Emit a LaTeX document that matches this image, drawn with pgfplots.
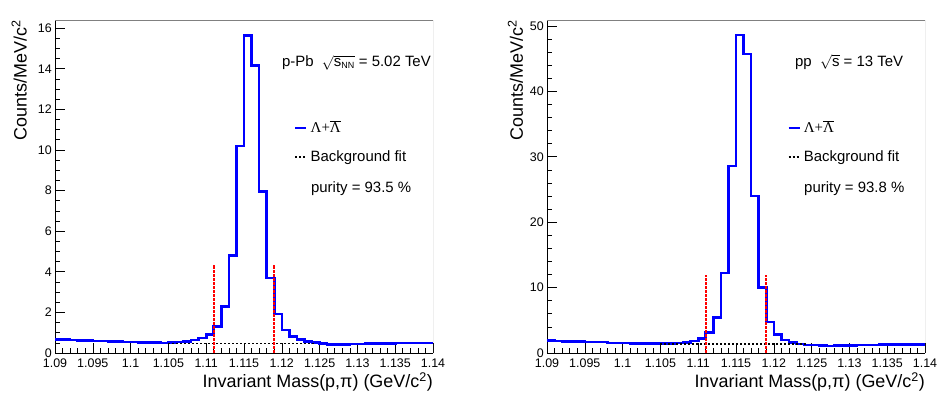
\documentclass[border=0pt]{standalone}
\usepackage{fontspec}
\setmainfont{Liberation Sans}
\newfontfamily\seriffont{Liberation Serif}
\usepackage{pgfplots}
\pgfplotsset{compat=1.18}

\pgfplotsset{
  rootaxis/.style={
    scale only axis, width=378bp, height=333bp,
    xmin=1.09, xmax=1.14, ymin=0,
    axis lines=left, axis line style={-, line width=0.8bp, black},
    tick align=inside,
    major tick length=10bp, minor tick length=5bp,
    tick style={black, line width=0.6bp},
    xtick={1.09,1.095,1.1,1.105,1.11,1.115,1.12,1.125,1.13,1.135,1.14},
    xticklabels={1.09,1.095,1.1,1.105,1.11,1.115,1.12,1.125,1.13,1.135,1.14},
    minor x tick num=4,
    ticklabel style={font=\fontsize{12.5}{12.5}\selectfont},
    xticklabel style={inner sep=0pt, yshift=-6bp},
    yticklabel style={inner sep=0pt, xshift=-3bp},
    /pgf/number format/assume math mode=true,
    xlabel={Invariant Mass(p,π) (GeV/c\textsuperscript{2})},
    ylabel={Counts/MeV/c\textsuperscript{2}},
    xlabel style={at={(axis description cs:1,0)}, anchor=north east, yshift=-19.5bp, font=\fontsize{18}{18}\selectfont, inner sep=0pt},
    legend style={draw=none, fill=none, font=\fontsize{15}{15}\selectfont, row sep=15bp, inner sep=0pt,
      nodes={inner sep=0pt, text height=11bp, text depth=3bp}, column sep=3bp},
    legend cell align=left,
    legend image code/.code={\draw[##1] (0bp,0bp) -- (11bp,0bp);},
    bkg/.style={black, line width=1.5bp, dash pattern=on 2bp off 2bp},
    sig/.style={red, line width=1.6bp, dash pattern=on 2.5bp off 1.5bp, forget plot},
  }
}

\begin{document}
\begin{tikzpicture}
\begin{axis}[rootaxis, ymax=16.4,
  ytick={0,2,4,6,8,10,12,14,16}, minor y tick num=3,
  ylabel style={at={(axis description cs:-0.074,1)}, anchor=south east, font=\fontsize{18}{18}\selectfont, inner sep=0pt},
  legend style={at={(rel axis cs:0.632,0.632)}, anchor=west}]
\addplot[const plot mark left, blue, line width=2.6bp] table {
x y
1.090 0.67
1.091 0.66
1.092 0.64
1.093 0.63
1.094 0.61
1.095 0.60
1.096 0.59
1.097 0.57
1.098 0.56
1.099 0.55
1.100 0.54
1.101 0.52
1.102 0.51
1.103 0.51
1.104 0.50
1.105 0.51
1.106 0.54
1.107 0.57
1.108 0.64
1.109 0.74
1.110 0.90
1.111 1.30
1.112 2.30
1.113 4.80
1.114 10.2
1.115 15.65
1.116 14.15
1.117 7.95
1.118 3.70
1.119 1.92
1.120 1.14
1.121 0.82
1.122 0.66
1.123 0.57
1.124 0.51
1.125 0.46
1.126 0.43
1.127 0.42
1.128 0.43
1.129 0.44
1.130 0.45
1.131 0.46
1.132 0.47
1.133 0.48
1.134 0.48
1.135 0.49
1.136 0.49
1.137 0.49
1.138 0.50
1.139 0.50
1.140 0.50
};
\addlegendentry{{\seriffont Λ+$\overline{\hbox{\seriffont Λ}}$}}
\addplot[bkg] coordinates {(1.105,0.48) (1.1245,0.48)};
\addlegendentry{Background fit}
\addplot[sig] coordinates {(1.111,0) (1.111,4.35)};
\addplot[sig] coordinates {(1.119,0) (1.119,4.35)};
\draw[gray, line width=0.6bp] (rel axis cs:0,1) -- (rel axis cs:1,1) -- (rel axis cs:1,0);
\node[anchor=base west, inner sep=0pt, font=\fontsize{11}{11}\selectfont, yshift=3bp] at (rel axis cs:0,1) {×10\textsuperscript{6}};
\node[anchor=base west, inner sep=0pt, font=\fontsize{15}{15}\selectfont] at (rel axis cs:0.60,0.86) {p-Pb\ \ $\sqrt{\mbox{s}_{\mbox{\fontsize{9}{9}\selectfont NN}}}$ = 5.02 TeV};
\node[anchor=base west, inner sep=0pt, font=\fontsize{15}{15}\selectfont] at (rel axis cs:0.677,0.481) {purity = 93.5 \%};
\end{axis}

\begin{axis}[rootaxis, xshift=492bp, ymax=50.9,
  ytick={0,10,20,30,40,50}, minor y tick num=4,
  ylabel style={at={(axis description cs:-0.063,1)}, anchor=south east, font=\fontsize{18}{18}\selectfont, inner sep=0pt},
  legend style={at={(rel axis cs:0.635,0.632)}, anchor=west}]
\addplot[const plot mark left, blue, line width=2.6bp] table {
x y
1.090 1.95
1.091 1.85
1.092 1.80
1.093 1.78
1.094 1.76
1.095 1.70
1.096 1.68
1.097 1.66
1.098 1.55
1.099 1.53
1.100 1.50
1.101 1.48
1.102 1.47
1.103 1.46
1.104 1.46
1.105 1.46
1.106 1.47
1.107 1.52
1.108 1.62
1.109 1.82
1.110 2.25
1.111 3.10
1.112 5.45
1.113 12.2
1.114 28.6
1.115 48.6
1.116 45.7
1.117 24.0
1.118 10.05
1.119 4.75
1.120 2.85
1.121 2.00
1.122 1.62
1.123 1.40
1.124 1.25
1.125 1.20
1.126 1.15
1.127 1.05
1.128 1.12
1.129 1.15
1.130 1.18
1.131 1.20
1.132 1.22
1.133 1.25
1.134 1.27
1.135 1.28
1.136 1.30
1.137 1.30
1.138 1.30
1.139 1.30
1.140 1.30
};
\addlegendentry{{\seriffont Λ+$\overline{\hbox{\seriffont Λ}}$}}
\addplot[bkg] coordinates {(1.105,1.38) (1.1245,1.38)};
\addlegendentry{Background fit}
\addplot[sig] coordinates {(1.111,0) (1.111,11.9)};
\addplot[sig] coordinates {(1.119,0) (1.119,11.9)};
\draw[gray, line width=0.6bp] (rel axis cs:0,1) -- (rel axis cs:1,1) -- (rel axis cs:1,0);
\node[anchor=base west, inner sep=0pt, font=\fontsize{11}{11}\selectfont, yshift=3bp] at (rel axis cs:0,1) {×10\textsuperscript{6}};
\node[anchor=base west, inner sep=0pt, font=\fontsize{15}{15}\selectfont] at (rel axis cs:0.656,0.86) {pp\ \ $\sqrt{\mbox{s}}$ = 13 TeV};
\node[anchor=base west, inner sep=0pt, font=\fontsize{15}{15}\selectfont] at (rel axis cs:0.680,0.481) {purity = 93.8 \%};
\end{axis}
\pgfresetboundingbox
\path[use as bounding box] (-55bp,-43bp) rectangle (886bp,353bp);
\end{tikzpicture}
\end{document}
